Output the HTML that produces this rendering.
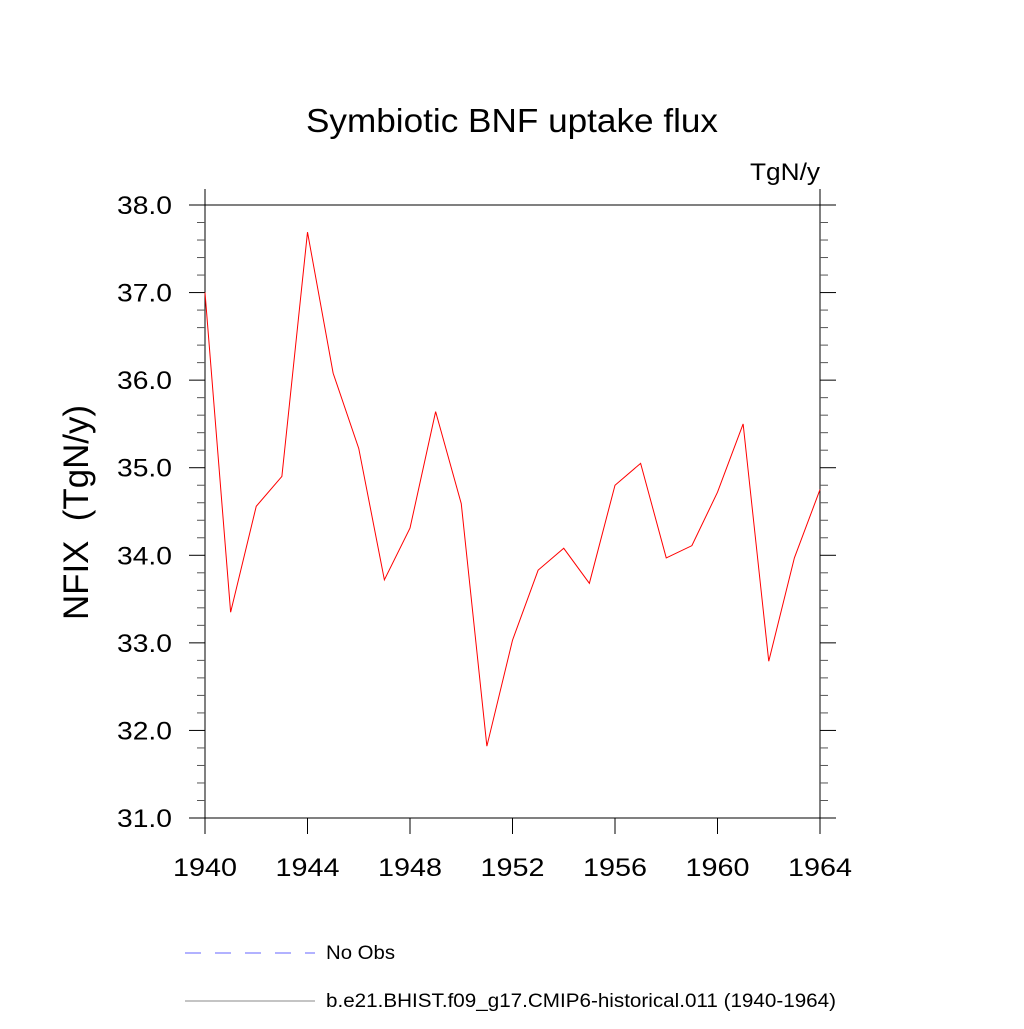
<!DOCTYPE html>
<html><head><meta charset="utf-8"><style>
body{margin:0;background:#fff}
svg text{font-family:"Liberation Sans",sans-serif;fill:#000;white-space:pre}
</style></head><body>
<svg id="chart" width="1024" height="1024" xmlns="http://www.w3.org/2000/svg">
<text x="306" y="132" font-size="33" textLength="412" lengthAdjust="spacingAndGlyphs">Symbiotic BNF uptake flux</text>
<text x="750" y="180" font-size="24" textLength="70" lengthAdjust="spacingAndGlyphs">TgN/y</text>
<text transform="translate(88,620) rotate(-90)" font-size="35" textLength="215" lengthAdjust="spacingAndGlyphs">NFIX  (TgN/y)</text>
<g id="axes"></g>
<g id="series"></g>
<g>
<line x1="185" y1="953" x2="315" y2="953" stroke="#6666ff" stroke-width="1" stroke-dasharray="16,14"/>
<text x="326" y="959" font-size="19" textLength="69" lengthAdjust="spacingAndGlyphs">No Obs</text>
<line x1="185" y1="1001" x2="315" y2="1001" stroke="#888" stroke-width="1"/>
<text x="326" y="1007" font-size="19" textLength="510" lengthAdjust="spacingAndGlyphs">b.e21.BHIST.f09_g17.CMIP6-historical.011 (1940-1964)</text>
</g>
</svg>
<script>
const years=[1940,1941,1942,1943,1944,1945,1946,1947,1948,1949,1950,1951,1952,1953,1954,1955,1956,1957,1958,1959,1960,1961,1962,1963,1964];
const nfix=[37.0,33.35,34.56,34.9,37.69,36.08,35.22,33.72,34.31,35.64,34.59,31.82,33.03,33.83,34.08,33.68,34.8,35.05,33.97,34.11,34.72,35.5,32.79,33.97,34.75];
const xTicks=[1940,1944,1948,1952,1956,1960,1964];
const yTicks=[31,32,33,34,35,36,37,38];
const X0=205,X1=820,Y0=818,Y1=205,xmin=1940,xmax=1964,ymin=31,ymax=38;
const sx=v=>X0+(v-xmin)/(xmax-xmin)*(X1-X0);
const sy=v=>Y0-(v-ymin)/(ymax-ymin)*(Y0-Y1);
const NS='http://www.w3.org/2000/svg';
const ax=document.getElementById('axes'),se=document.getElementById('series');
function mk(t,a,p){const e=document.createElementNS(NS,t);for(const k in a)e.setAttribute(k,a[k]);p.appendChild(e);return e;}
const frame=mk('rect',{x:X0,y:Y1,width:X1-X0,height:Y0-Y1,fill:'none',stroke:'#000','stroke-width':1},ax);


mk('line',{x1:X0,y1:Y1-16,x2:X0,y2:Y1,stroke:'#000'},ax);
mk('line',{x1:X1,y1:Y1-16,x2:X1,y2:Y1,stroke:'#000'},ax);
yTicks.forEach(v=>{
 const y=sy(v);
 const l=mk('line',{x1:X0-16,y1:y,x2:X0,y2:y,stroke:'#000'},ax);
 
 
 mk('line',{x1:X1,y1:y,x2:X1+16,y2:y,stroke:'#000'},ax);
 const t=mk('text',{x:117,y:y+9,'font-size':25,textLength:55,lengthAdjust:'spacingAndGlyphs'},ax);
 t.textContent=v.toFixed(1);
 
 
 if(v<ymax){for(let k=1;k<5;k++){const ym=sy(v+k*0.2);
  mk('line',{x1:X0-8,y1:ym,x2:X0,y2:ym,stroke:'#555'},ax);
  mk('line',{x1:X1,y1:ym,x2:X1+8,y2:ym,stroke:'#555'},ax);}}
});
xTicks.forEach(v=>{
 const x=sx(v);
 const l=mk('line',{x1:x,y1:Y0,x2:x,y2:Y0+16,stroke:'#000'},ax);
 
 
 const t=mk('text',{x:x-32,y:Y0+58,'font-size':25,textLength:64,lengthAdjust:'spacingAndGlyphs'},ax);
 t.textContent=v;
 
 
});
const pl=mk('polyline',{points:years.map((y,i)=>sx(y)+','+sy(nfix[i])).join(' '),fill:'none',stroke:'#ff0000','stroke-width':1},se);


</script>
</body></html>
